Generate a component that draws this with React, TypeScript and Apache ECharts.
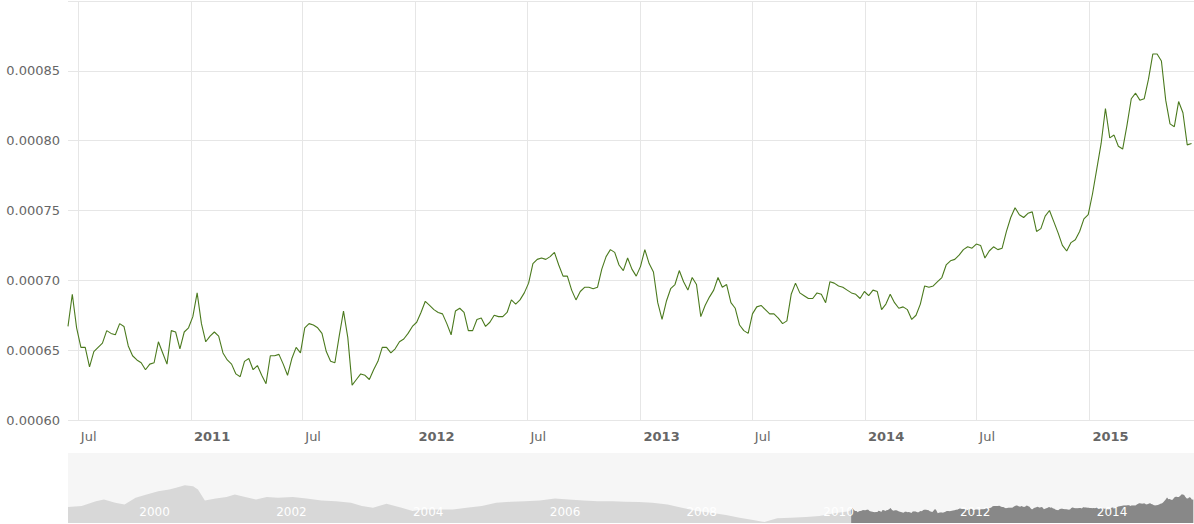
import React, { useEffect, useRef } from "react";
import * as echarts from "echarts";

// ---- data ----
const WEEK_START = "2010-06-15"; // first weekly observation
const weeklyRate = [
  0.000667, 0.00069, 0.000666, 0.000652, 0.000652, 0.000638, 0.000649, 0.000652, 0.000655, 0.000664,
  0.000662, 0.000661, 0.000669, 0.000667, 0.000653, 0.000646, 0.000643, 0.000641, 0.000636, 0.00064,
  0.000641, 0.000656, 0.000648, 0.00064, 0.000664, 0.000663, 0.000651, 0.000663, 0.000666, 0.000674,
  0.000691, 0.000669, 0.000656, 0.00066, 0.000663, 0.00066, 0.000648, 0.000643, 0.00064, 0.000633,
  0.000631, 0.000642, 0.000644, 0.000636, 0.000639, 0.000632, 0.000626, 0.000646, 0.000646, 0.000647,
  0.00064, 0.000632, 0.000644, 0.000652, 0.000648, 0.000666, 0.000669, 0.000668, 0.000666, 0.000662,
  0.000649, 0.000642, 0.000641, 0.00066, 0.000678, 0.000659, 0.000625, 0.000629, 0.000633, 0.000632,
  0.000629, 0.000636, 0.000642, 0.000652, 0.000652, 0.000648, 0.000651, 0.000656, 0.000658, 0.000662,
  0.000667, 0.00067, 0.000677, 0.000685, 0.000682, 0.000679, 0.000677, 0.000676, 0.000669, 0.000661,
  0.000678, 0.00068, 0.000677, 0.000664, 0.000664, 0.000672, 0.000673, 0.000667, 0.00067, 0.000675,
  0.000674, 0.000674, 0.000677, 0.000686, 0.000683, 0.000686, 0.000691, 0.000698, 0.000712, 0.000715,
  0.000716, 0.000715, 0.000717, 0.00072, 0.000711, 0.000703, 0.000703, 0.000693, 0.000686, 0.000692,
  0.000695, 0.000695, 0.000694, 0.000695, 0.000708, 0.000717, 0.000722, 0.00072, 0.000711, 0.000707,
  0.000716, 0.000708, 0.000703, 0.00071, 0.000722, 0.000712, 0.000706, 0.000684, 0.000672, 0.000685,
  0.000694, 0.000697, 0.000707, 0.000699, 0.000693, 0.000702, 0.000697, 0.000674, 0.000682, 0.000688,
  0.000693, 0.000702, 0.000695, 0.000697, 0.000684, 0.00068, 0.000668, 0.000664, 0.000662, 0.000676,
  0.000681, 0.000682, 0.000679, 0.000676, 0.000676, 0.000673, 0.000669, 0.000671, 0.00069, 0.000698,
  0.000691, 0.000689, 0.000687, 0.000687, 0.000691, 0.00069, 0.000684, 0.000699, 0.000698, 0.000696,
  0.000695, 0.000693, 0.000691, 0.00069, 0.000687, 0.000692, 0.000689, 0.000693, 0.000692, 0.000679,
  0.000683, 0.00069, 0.000684, 0.00068, 0.000681, 0.000679, 0.000672, 0.000675, 0.000683, 0.000696,
  0.000695, 0.000696, 0.000699, 0.000702, 0.000711, 0.000714, 0.000715, 0.000718, 0.000722, 0.000724,
  0.000723, 0.000726, 0.000725, 0.000716, 0.000721, 0.000724, 0.000722, 0.000723, 0.000735, 0.000745,
  0.000752, 0.000747, 0.000745, 0.000748, 0.000749, 0.000735, 0.000737, 0.000746, 0.00075, 0.000742,
  0.000734, 0.000725, 0.000721, 0.000727, 0.000729, 0.000735, 0.000744, 0.000747, 0.000762, 0.00078,
  0.000798, 0.000823, 0.000802, 0.000804, 0.000796, 0.000794, 0.000811, 0.00083, 0.000834, 0.000829,
  0.00083, 0.000844, 0.000862, 0.000862, 0.000857, 0.000829, 0.000812, 0.00081, 0.000828, 0.00082,
  0.000797, 0.000798,
];

// longer history shown only in the navigator
const historyDates = [
  "1999-01-01", "1999-03-15", "1999-05-30", "1999-07-12", "1999-09-10", "1999-10-30", "1999-12-28",
  "2000-02-25", "2000-04-27", "2000-06-25", "2000-07-31", "2000-09-16", "2000-10-30", "2000-11-25",
  "2001-01-01", "2001-02-28", "2001-04-27", "2001-06-10", "2001-08-04", "2001-10-01", "2001-11-28",
  "2002-01-26", "2002-04-16", "2002-06-28", "2002-09-16", "2002-12-01", "2003-02-20", "2003-04-20",
  "2003-06-18", "2003-08-29", "2003-11-18", "2004-01-15", "2004-03-14", "2004-05-30", "2004-08-18",
  "2004-10-30", "2005-01-19", "2005-04-06", "2005-06-25", "2005-09-06", "2005-11-25", "2006-02-14",
  "2006-04-27", "2006-07-16", "2006-10-01", "2006-12-20", "2007-02-24", "2007-05-08", "2007-07-20",
  "2007-10-08", "2007-12-24", "2008-03-14", "2008-05-27", "2008-08-15", "2008-10-27", "2009-01-15",
  "2009-03-08", "2009-05-16", "2009-07-28", "2009-10-16", "2009-12-28", "2010-03-18", "2010-06-03",
];
const historyRate = [
  0.000703, 0.000715, 0.000778, 0.0008, 0.000757, 0.000736, 0.00082,
  0.000863, 0.000905, 0.000926, 0.000947, 0.000981, 0.000968, 0.000926,
  0.000787, 0.000812, 0.000829, 0.000863, 0.000829, 0.0008, 0.000829,
  0.00082, 0.000829, 0.000812, 0.000787, 0.000778, 0.000757, 0.000715,
  0.000694, 0.000744, 0.000694, 0.000652, 0.000673, 0.000673, 0.000673,
  0.000694, 0.000715, 0.000757, 0.00077, 0.000778, 0.000787, 0.000812,
  0.0008, 0.000787, 0.000778, 0.000778, 0.00077, 0.000766, 0.000757,
  0.000736, 0.000694, 0.000652, 0.00063, 0.000601, 0.000567, 0.000534,
  0.000513, 0.000559, 0.000567, 0.000576, 0.000589, 0.000625, 0.00065,
];

const mainTicks = [
  "2010-07-01", "2011-01-01", "2011-07-01", "2012-01-01", "2012-07-01",
  "2013-01-01", "2013-07-01", "2014-01-01", "2014-07-01", "2015-01-01",
];
const navTicks = [
  "2000-01-01", "2002-01-01", "2004-01-01", "2006-01-01",
  "2008-01-01", "2010-01-01", "2012-01-01", "2014-01-01",
];
const VIEW_START = "2010-06-15";
const VIEW_END = "2015-06-20";
const NAV_START = "1999-01-01";
const Y_MIN = 0.0006;
const Y_MAX = 0.0009;
const Y_STEP = 0.00005;

const DAY = 86400000;
const FONT = "DejaVu Sans";

export default function App() {
  const ref = useRef<HTMLDivElement>(null);

  useEffect(() => {
    if (!ref.current) return;
    const chart = echarts.init(ref.current, null, { renderer: "svg" });
    const t0 = Date.parse(WEEK_START);
    const mainData = weeklyRate.map((v, i) => [t0 + i * 7 * DAY, v]);
    const navData = historyDates
      .map((d, i) => [Date.parse(d), historyRate[i]])
      .concat(mainData);
    const mainTickTs = mainTicks.map((d) => Date.parse(d));
    const navTickTs = navTicks.map((d) => Date.parse(d));

    chart.setOption({
      animation: false,
      textStyle: { fontFamily: FONT },
      grid: [
        { left: 68, right: 0, top: 1, height: 419 },
        {
          left: 68,
          right: 0,
          top: 453,
          height: 70,
          show: true,
          backgroundColor: "#f6f6f6",
          borderWidth: 0,
        },
      ],
      xAxis: [
        {
          type: "value",
          gridIndex: 0,
          min: Date.parse(VIEW_START),
          max: Date.parse(VIEW_END),
          axisLine: { show: false },
          axisTick: { show: false, customValues: mainTickTs },
          axisLabel: {
            customValues: mainTickTs,
            align: "left",
            padding: [0, 0, 0, 3],
            margin: 10,
            formatter: (val: number) => {
              const d = new Date(val);
              return d.getUTCMonth() === 0
                ? "{y|" + d.getUTCFullYear() + "}"
                : "{m|Jul}";
            },
            rich: {
              y: { fontFamily: FONT, fontSize: 13, fontWeight: "bold", color: "#666666" },
              m: { fontFamily: FONT, fontSize: 13, color: "#666666" },
            },
          },
          splitLine: { show: true, lineStyle: { color: "#e6e6e6", width: 1 } },
        },
        {
          type: "value",
          gridIndex: 1,
          z: 10,
          min: Date.parse(NAV_START),
          max: Date.parse(VIEW_END),
          axisLine: { show: false },
          axisTick: { show: false, customValues: navTickTs },
          axisLabel: {
            customValues: navTickTs,
            inside: true,
            align: "left",
            padding: [0, 0, 0, 3],
            margin: 5,
            color: "#ffffff",
            fontSize: 12,
            fontFamily: FONT,
            formatter: (val: number) => String(new Date(val).getUTCFullYear()),
          },
          splitLine: { show: false },
        },
      ],
      yAxis: [
        {
          type: "value",
          gridIndex: 0,
          min: Y_MIN,
          max: Y_MAX,
          interval: Y_STEP,
          axisLine: { show: false },
          axisTick: { show: false },
          axisLabel: {
            color: "#666666",
            fontSize: 13,
            fontFamily: FONT,
            margin: 8,
            formatter: (v: number) => (v > Y_MAX - Y_STEP / 2 ? "" : v.toFixed(5)),
          },
          splitLine: { show: true, lineStyle: { color: "#e6e6e6", width: 1 } },
        },
        {
          type: "value",
          gridIndex: 1,
          min: 0.0005,
          max: 0.00139,
          axisLine: { show: false },
          axisTick: { show: false },
          axisLabel: { show: false },
          splitLine: { show: false },
        },
      ],
      series: [
        {
          type: "line",
          xAxisIndex: 1,
          yAxisIndex: 1,
          z: 1,
          data: navData,
          showSymbol: false,
          silent: true,
          lineStyle: { width: 0 },
          areaStyle: { color: "#d8d8d8", opacity: 1, origin: "start" },
        },
        {
          type: "line",
          xAxisIndex: 1,
          yAxisIndex: 1,
          z: 1,
          data: mainData,
          showSymbol: false,
          silent: true,
          lineStyle: { width: 0 },
          areaStyle: { color: "#888888", opacity: 1, origin: "start" },
        },
        {
          type: "line",
          xAxisIndex: 0,
          yAxisIndex: 0,
          data: mainData,
          showSymbol: false,
          lineStyle: { color: "#4b7a1e", width: 1.1 },
        },
      ],
    });
    return () => chart.dispose();
  }, []);

  return (
    <div
      ref={ref}
      style={{ position: "absolute", left: 0, top: 0, width: 1194, height: 524 }}
    />
  );
}
